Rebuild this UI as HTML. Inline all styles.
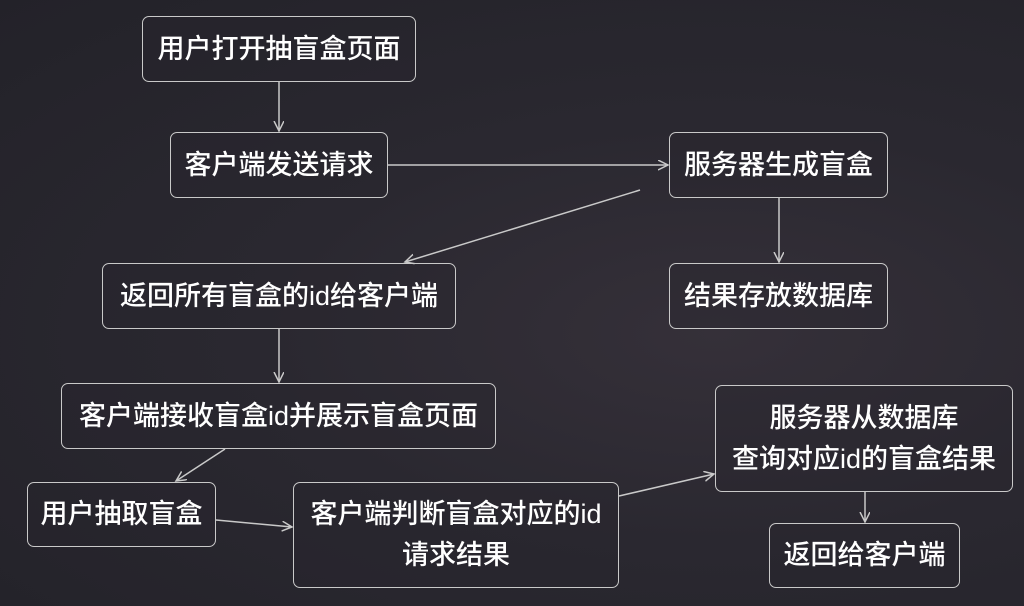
<!DOCTYPE html>
<html><head><meta charset="utf-8"><style>
html,body{margin:0;padding:0;}
body{width:1024px;height:606px;overflow:hidden;position:relative;
background:radial-gradient(ellipse at 70% 55%,#353039 0%,#2a2830 45%,#232229 100%);
font-family:"Liberation Sans","Noto Sans CJK SC",sans-serif;}
.b{position:absolute;box-sizing:border-box;border:1.5px solid #c9c9c9;border-radius:7px;
color:#fff;font-size:27px;font-weight:500;display:flex;align-items:center;justify-content:center;text-align:center;line-height:41px;background:rgba(40,38,46,0.35);white-space:nowrap;}
svg{position:absolute;left:0;top:0;}
</style></head><body>
<div class="b" style="left:142px;top:16px;width:274px;height:66px">用户打开抽盲盒页面</div>
<div class="b" style="left:170px;top:132px;width:218px;height:66px">客户端发送请求</div>
<div class="b" style="left:669px;top:132px;width:219px;height:66px">服务器生成盲盒</div>
<div class="b" style="left:102px;top:263px;width:354px;height:66px">返回所有盲盒的id给客户端</div>
<div class="b" style="left:669px;top:263px;width:219px;height:66px">结果存放数据库</div>
<div class="b" style="left:61px;top:383px;width:435px;height:66px">客户端接收盲盒id并展示盲盒页面</div>
<div class="b" style="left:715px;top:385px;width:298px;height:107px">服务器从数据库<br>查询对应id的盲盒结果</div>
<div class="b" style="left:27px;top:482px;width:189px;height:65px">用户抽取盲盒</div>
<div class="b" style="left:293px;top:482px;width:326px;height:106px">客户端判断盲盒对应的id<br>请求结果</div>
<div class="b" style="left:769px;top:523px;width:191px;height:65px">返回给客户端</div>
<svg width="1024" height="606">
<defs><marker id="a" markerWidth="12" markerHeight="12" refX="10" refY="5" orient="auto" markerUnits="userSpaceOnUse"><path d="M0,0 L10,5 L0,10" fill="none" stroke="#c9c9c9" stroke-width="1.5"/></marker></defs>
<g stroke="#c9c9c9" stroke-width="1.5" fill="none" marker-end="url(#a)">
<line x1="279" y1="82" x2="279" y2="131"/>
<line x1="388" y1="165" x2="668" y2="165"/>
<line x1="640" y1="190" x2="405" y2="262"/>
<line x1="779" y1="198" x2="779" y2="262"/>
<line x1="279" y1="329" x2="279" y2="382"/>
<line x1="225" y1="449" x2="176" y2="481"/>
<line x1="216" y1="520" x2="292" y2="527"/>
<line x1="619" y1="496" x2="714" y2="474"/>
<line x1="865" y1="492" x2="865" y2="522"/>
</g></svg>
</body></html>
